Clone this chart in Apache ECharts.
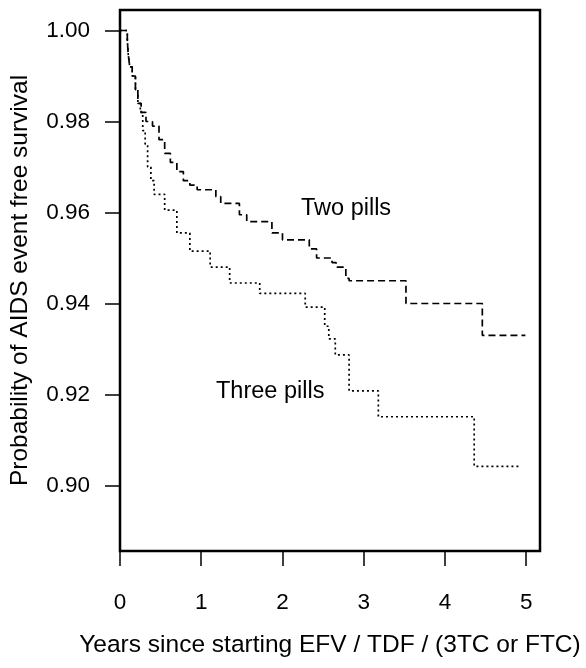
<!DOCTYPE html>
<html>
<head>
<meta charset="utf-8">
<script src="https://cdn.jsdelivr.net/npm/echarts@6/dist/echarts.min.js"></script>
<style>
html, body { margin: 0; padding: 0; background: #fff; }
#container { width: 586px; height: 668px; }
</style>
</head>
<body>
<div id="container"></div>
<script>
// Kaplan-Meier curves (years, survival)
var twoPillsTime = [0, 0.09, 0.10, 0.12, 0.15, 0.19, 0.22, 0.26, 0.32, 0.40, 0.48, 0.55, 0.62, 0.70, 0.78, 0.86, 0.95, 1.18, 1.24, 1.47, 1.56, 1.87, 2.00, 2.33, 2.42, 2.61, 2.66, 2.78, 2.82, 3.52, 4.46, 4.99];
var twoPillsSurv = [1.000, 0.998, 0.995, 0.992, 0.990, 0.987, 0.984, 0.982, 0.980, 0.979, 0.976, 0.973, 0.971, 0.969, 0.967, 0.966, 0.965, 0.9635, 0.962, 0.9595, 0.958, 0.9555, 0.954, 0.952, 0.950, 0.949, 0.948, 0.9455, 0.945, 0.940, 0.933, 0.933];

var threePillsTime = [0, 0.09, 0.10, 0.12, 0.15, 0.19, 0.22, 0.25, 0.28, 0.31, 0.34, 0.38, 0.42, 0.55, 0.70, 0.86, 1.11, 1.35, 1.72, 2.28, 2.52, 2.57, 2.65, 2.82, 3.18, 4.36, 4.94];
var threePillsSurv = [1.000, 0.998, 0.995, 0.992, 0.990, 0.987, 0.984, 0.982, 0.978, 0.975, 0.970, 0.967, 0.964, 0.9605, 0.9555, 0.9515, 0.948, 0.9445, 0.9422, 0.9392, 0.935, 0.9322, 0.9287, 0.9208, 0.9151, 0.9042, 0.9042];

var xTicks = [0, 1, 2, 3, 4, 5];
var yTicks = [0.90, 0.92, 0.94, 0.96, 0.98, 1.00];

var pair = function (xs, ys) {
    var res = [];
    for (var i = 0; i < xs.length; i++) {
        res.push([xs[i], ys[i]]);
    }
    return res;
};

var font = 'Liberation Sans, Arial, sans-serif';
var dom = document.getElementById('container');
var myChart = echarts.init(dom, null, { renderer: 'canvas' });

var option = {
    backgroundColor: '#fff',
    animation: false,
    grid: {
        left: 120, top: 10, width: 420, height: 541,
        outerBoundsMode: 'none',
        containLabel: false,
        show: true, borderColor: '#000', borderWidth: 2.5
    },
    xAxis: {
        type: 'value',
        min: 0, max: 5.17,
        name: 'Years since starting EFV / TDF / (3TC or FTC)',
        nameLocation: 'middle',
        nameGap: 82,
        nameTextStyle: { fontFamily: font, fontSize: 24.5, color: '#000' },
        axisLine: { show: false },
        splitLine: { show: false },
        axisTick: {
            show: true, inside: false, length: 15,
            customValues: xTicks,
            lineStyle: { color: '#000', width: 1.5 }
        },
        axisLabel: {
            customValues: xTicks,
            margin: 40,
            fontFamily: font, fontSize: 22.5, color: '#000'
        }
    },
    yAxis: {
        type: 'value',
        min: 0.8856, max: 1.0045,
        name: 'Probability of AIDS event free survival',
        nameLocation: 'middle',
        nameGap: 87,
        nameTextStyle: { fontFamily: font, fontSize: 24.5, color: '#000' },
        axisLine: { show: false },
        splitLine: { show: false },
        axisTick: {
            show: true, inside: false, length: 15,
            customValues: yTicks,
            lineStyle: { color: '#000', width: 1.5 }
        },
        axisLabel: {
            customValues: yTicks,
            margin: 30,
            formatter: function (v) { return v.toFixed(2); },
            fontFamily: font, fontSize: 22.5, color: '#000'
        }
    },
    graphic: [
        { type: 'text', left: 301, top: 197, style: { text: 'Two pills', font: '23.5px ' + font, fill: '#000' } },
        { type: 'text', left: 216, top: 380, style: { text: 'Three pills', font: '23.5px ' + font, fill: '#000' } }
    ],
    series: [
        {
            name: 'Two pills',
            type: 'line',
            step: 'end',
            showSymbol: false,
            data: pair(twoPillsTime, twoPillsSurv),
            lineStyle: { color: '#000', width: 1.7, type: [7, 4] }
        },
        {
            name: 'Three pills',
            type: 'line',
            step: 'end',
            showSymbol: false,
            data: pair(threePillsTime, threePillsSurv),
            lineStyle: { color: '#000', width: 1.7, type: [2, 3] }
        }
    ]
};
myChart.setOption(option, true);
</script>
</body>
</html>
